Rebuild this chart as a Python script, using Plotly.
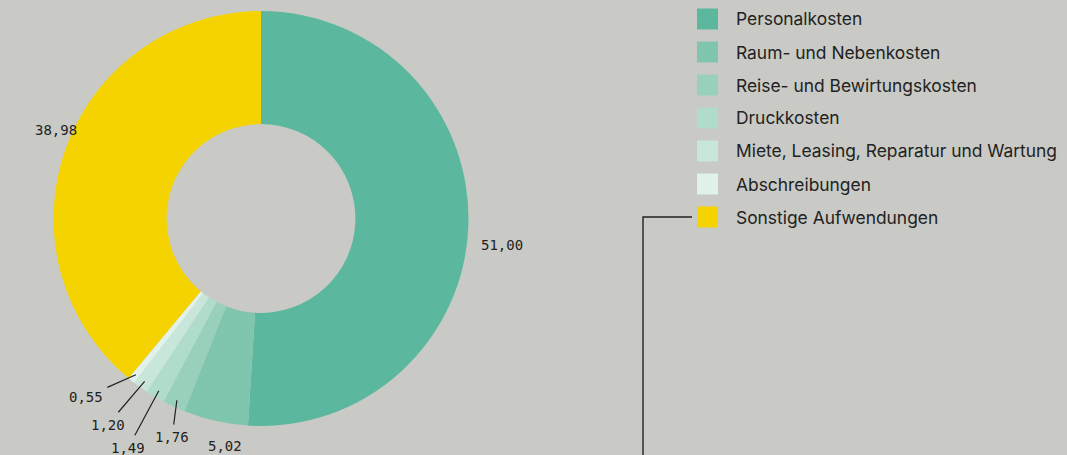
import math
import plotly.graph_objects as go

categories = ["Personalkosten", "Raum- und Nebenkosten", "Reise- und Bewirtungskosten",
              "Druckkosten", "Miete, Leasing, Reparatur und Wartung", "Abschreibungen",
              "Sonstige Aufwendungen"]
values = [51.00, 5.02, 1.76, 1.49, 1.20, 0.55, 38.98]
colors = ["#5bb89e", "#80c6ae", "#98d0bb", "#b0dcca", "#c8e6d9", "#e0f2ea", "#f5d300"]

# label placement (style): radius of label centre in px, angular nudge in degrees, leader line?
label_r = [242, 230, 236, 265, 257, 250, 223]
label_dtheta = [4.4, -3.6, -2.7, -0.6, 1.1, 5.8, 3.6]
label_line = [False, False, True, True, True, True, False]

W, H = 1067, 455
BG = "#c9cac5"
INK = "#222222"

# pie geometry (pixels)
CX, CY, R = 261.0, 218.5, 207.5
HOLE = 0.455

fig = go.Figure()
fig.add_trace(go.Pie(
    labels=categories, values=values, sort=False, direction="clockwise", rotation=0,
    hole=HOLE, marker=dict(colors=colors, line=dict(width=0)),
    textinfo="none",
    domain=dict(x=[(CX - R) / W, (CX + R) / W], y=[1 - (CY + R) / H, 1 - (CY - R) / H]),
    showlegend=False, hoverinfo="label+value",
))

# value labels, computed from slice angles
total = sum(values)
cum = 0.0
for v, lr, dth, ln in zip(values, label_r, label_dtheta, label_line):
    mid = (cum + v / 2) / total * 360.0
    cum += v
    th = math.radians(mid + dth)
    lx, ly = CX + lr * math.sin(th), CY - lr * math.cos(th)
    txt = f"{v:.2f}".replace(".", ",")
    font = dict(family="DejaVu Sans Mono", size=14, color=INK)
    if ln:
        tm = math.radians(mid)
        hr = R * 0.965
        hx, hy = CX + hr * math.sin(tm), CY - hr * math.cos(tm)
        fig.add_annotation(xref="paper", yref="paper", x=hx / W, y=1 - hy / H,
                           ax=lx - hx, ay=ly - hy, axref="pixel", ayref="pixel",
                           text=txt, showarrow=True, arrowhead=0, arrowwidth=1.2,
                           arrowcolor=INK, standoff=0, borderpad=4, font=font)
    else:
        fig.add_annotation(xref="paper", yref="paper", x=lx / W, y=1 - ly / H,
                           text=txt, showarrow=False, xanchor="center", yanchor="middle",
                           font=font)

# legend (drawn manually for large square swatches)
sq = 21
x0 = 697
y_first = 19
step = 33
for i, (cat, col) in enumerate(zip(categories, colors)):
    yc = y_first + i * step
    fig.add_shape(type="rect", xref="paper", yref="paper",
                  x0=x0 / W, x1=(x0 + sq) / W,
                  y0=1 - (yc + sq / 2) / H, y1=1 - (yc - sq / 2) / H,
                  fillcolor=col, line=dict(width=0))
    fig.add_annotation(xref="paper", yref="paper", x=734 / W, y=1 - yc / H,
                       text=cat, showarrow=False, xanchor="left", yanchor="middle",
                       font=dict(family="Inter", size=17.4, color=INK))

# connector line from legend
fig.add_shape(type="path", xref="paper", yref="paper",
              path=f"M {692/W} {1-217/H} L {643/W} {1-217/H} L {643/W} 0",
              line=dict(color=INK, width=1.4))

fig.update_layout(
    width=W, height=H, paper_bgcolor=BG, plot_bgcolor=BG,
    margin=dict(l=0, r=0, t=0, b=0, autoexpand=False),
)
fig.write_html("out.html", config={"displayModeBar": False},
               post_script="document.body.style.margin='0';document.body.style.overflow='hidden';")
